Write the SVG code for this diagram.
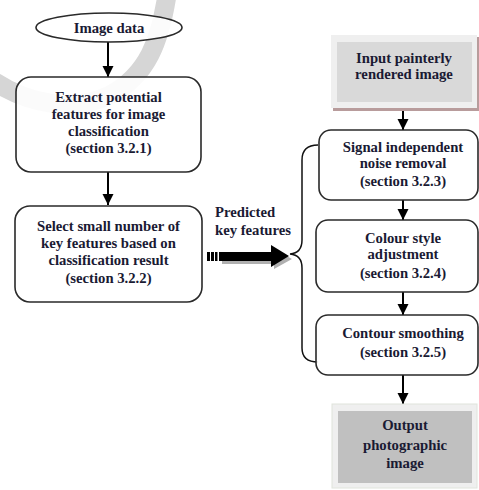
<svg xmlns="http://www.w3.org/2000/svg" width="479" height="490" viewBox="0 0 479 490">
<style>
  text { font-family: 'Liberation Serif', 'Times New Roman', 'DejaVu Serif', serif; font-weight: bold; font-size: 14.7px; fill: #1a1a33; }
  .t { text-anchor: middle; }
  .box { fill: #ffffff; fill-opacity: 0.9; stroke: #2a2a2a; stroke-width: 1.6; }
  .conn { stroke: #000; stroke-width: 2; fill: none; }
</style>
<defs>
  <marker id="ah" markerUnits="userSpaceOnUse" markerWidth="12" markerHeight="12" refX="11" refY="6" orient="auto">
    <path d="M0,0.5 L11,6 L0,11.5 z" fill="#000"/>
  </marker>
</defs>
<rect width="479" height="490" fill="#fff"/>
<path id="watermark" d="M167,-5 C160,40 148,75 110,95 C75,112 30,105 -5,82" stroke="#d6d6d6" stroke-width="19" fill="none"/>

<g id="connectors">
  <line class="conn" x1="108" y1="42" x2="108" y2="77" marker-end="url(#ah)"/>
  <line class="conn" x1="108" y1="172" x2="108" y2="205" marker-end="url(#ah)"/>
  <line class="conn" x1="403" y1="109" x2="403" y2="130" marker-end="url(#ah)"/>
  <line class="conn" x1="403" y1="200" x2="403" y2="220" marker-end="url(#ah)"/>
  <line class="conn" x1="403" y1="292" x2="403" y2="315" marker-end="url(#ah)"/>
  <line class="conn" x1="403" y1="375" x2="403" y2="404" marker-end="url(#ah)"/>
  <g id="big-arrow">
    <path d="M222,255 L274,255 L274,249 L292,259 L274,269 L274,264 L222,264 z" fill="#b0b0b0"/>
    <rect x="207" y="252" width="3" height="9" fill="#000"/>
    <rect x="211" y="252" width="3" height="9" fill="#000"/>
    <rect x="215" y="252" width="2.5" height="9" fill="#000"/>
    <path d="M219,252 L271,252 L271,245 L289,256 L271,267 L271,261 L219,261 z" fill="#000"/>
  </g>
  <path id="brace" d="M318,145 Q302,145 302,160 L302,240 Q302,253 290,254 Q302,255 302,268 L302,348 Q302,362 318,362" stroke="#111" stroke-width="1.5" fill="none"/>
</g>

<g id="n-image-data">
  <ellipse cx="109" cy="27.5" rx="73" ry="14.5" class="box"/>
  <text class="t" x="109" y="32.5">Image data</text>
</g>

<g id="n-extract">
  <rect x="16" y="77" width="185" height="95" rx="15" class="box"/>
  <text class="t" x="108.5" y="102">Extract potential</text>
  <text class="t" x="108.5" y="119">features for image</text>
  <text class="t" x="108.5" y="136">classification</text>
  <text class="t" x="108.5" y="153">(section 3.2.1)</text>
</g>

<g id="n-select">
  <rect x="15" y="206" width="187" height="96" rx="15" class="box"/>
  <text class="t" x="108.5" y="231">Select small number of</text>
  <text class="t" x="108.5" y="248">key features based on</text>
  <text class="t" x="108.5" y="265">classification result</text>
  <text class="t" x="108.5" y="283">(section 3.2.2)</text>
</g>

<g id="l-predicted">
  <text x="215" y="217">Predicted</text>
  <text x="215" y="235">key features</text>
</g>

<g id="n-input">
  <rect x="333" y="37" width="146" height="74" fill="#b89c9c"/>
  <rect x="331" y="35" width="146" height="73" fill="#efefef"/>
  <rect x="337" y="42" width="135" height="60" fill="#d9d9d9"/>
  <text class="t" x="404" y="63">Input painterly</text>
  <text class="t" x="404" y="79">rendered image</text>
</g>

<g id="n-noise">
  <rect x="319" y="130" width="159" height="70" rx="12" class="box"/>
  <text class="t" x="403" y="152">Signal independent</text>
  <text class="t" x="403" y="168">noise removal</text>
  <text class="t" x="403" y="186">(section 3.2.3)</text>
</g>

<g id="n-colour">
  <rect x="316" y="220" width="162" height="72" rx="12" class="box"/>
  <text class="t" x="403" y="243">Colour style</text>
  <text class="t" x="403" y="259">adjustment</text>
  <text class="t" x="403" y="278">(section 3.2.4)</text>
</g>

<g id="n-contour">
  <rect x="316" y="315" width="162" height="60" rx="12" class="box"/>
  <text class="t" x="403" y="338">Contour smoothing</text>
  <text class="t" x="403" y="357">(section 3.2.5)</text>
</g>

<g id="n-output">
  <rect x="332" y="404" width="145" height="84" fill="#efefef" stroke="#e0e4dc" stroke-width="1"/>
  <rect x="338" y="411" width="134" height="72" fill="#c0c0c0"/>
  <text class="t" x="405" y="430">Output</text>
  <text class="t" x="405" y="450">photographic</text>
  <text class="t" x="405" y="468">image</text>
</g>
</svg>
